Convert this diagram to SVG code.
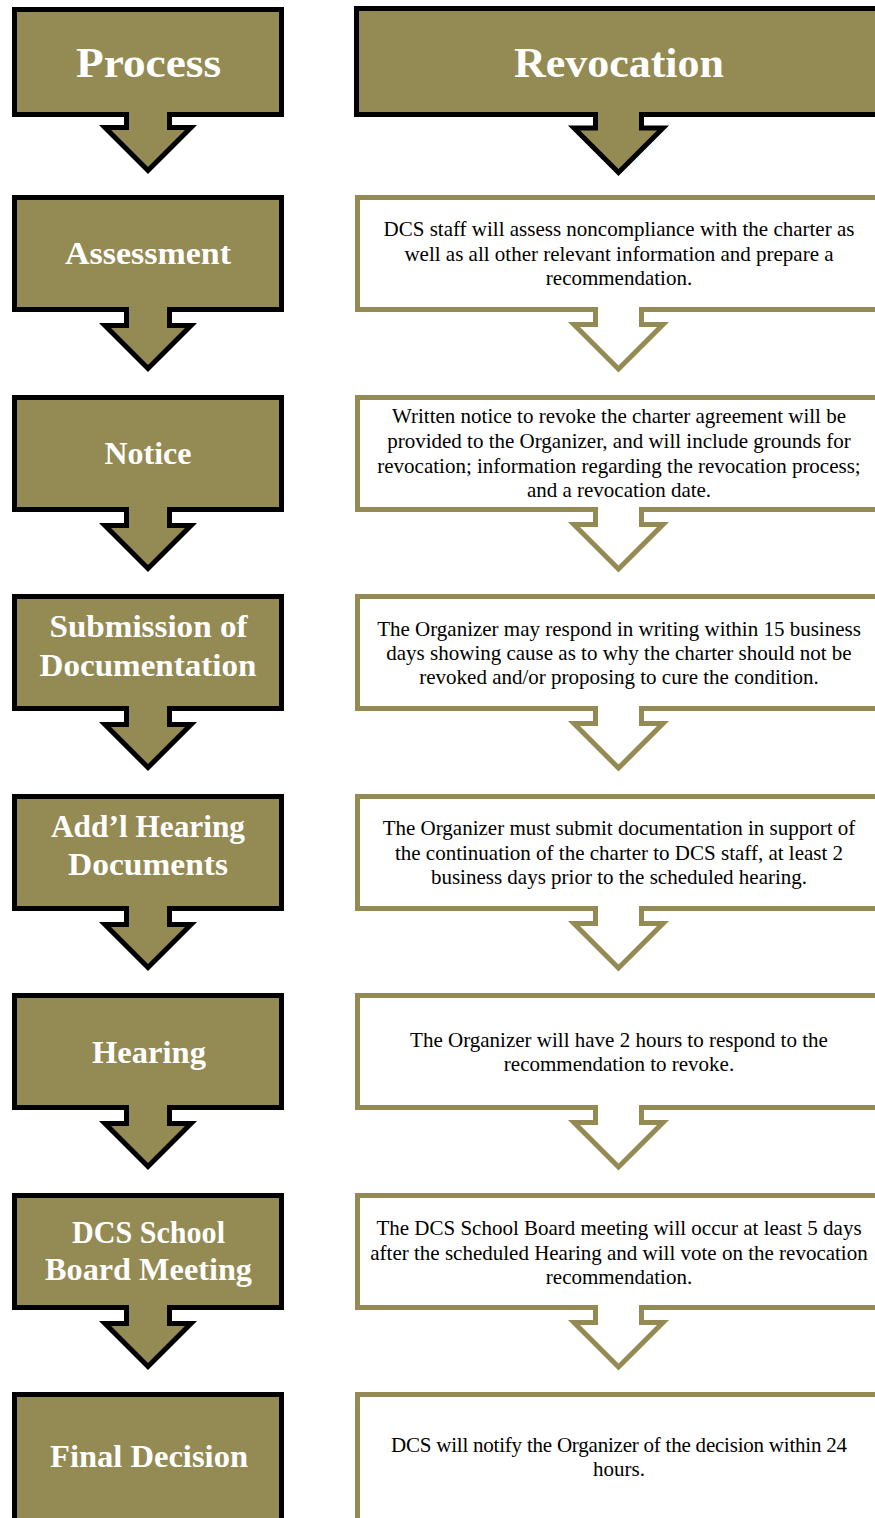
<svg xmlns="http://www.w3.org/2000/svg" xmlns:xlink="http://www.w3.org/1999/xlink" width="875" height="1518" viewBox="0 0 875 1518">
<style>
.dark{fill:#948A54;stroke:#000;stroke-width:5;stroke-linejoin:miter}
.light{fill:#fff;stroke:#948A54;stroke-width:5;stroke-linejoin:miter}
.lbl{font-family:"Liberation Serif","Times New Roman",serif;font-weight:bold;font-size:32px;fill:#fff;text-anchor:middle}
.hdr{font-size:42px}
.txt{font-family:"Liberation Serif","Times New Roman",serif;font-size:21px;fill:#000;text-anchor:middle}
</style>
<defs>
<path id="leftArrow" d="M14.5,2.5 H281.5 V114.5 H169.5 V130.5 H191 L148,173.5 L105,130.5 H126.5 V114.5 H14.5 Z"/>
<path id="rightArrow" d="M357.5,2.5 H885 V114.5 H641.5 V129.5 H663 L618.5,174 L574,129.5 H595.5 V114.5 H357.5 Z"/>
</defs>
<rect width="875" height="1518" fill="#fff"/>

<g id="process">
<path class="dark" d="M14.5,9.5 H281.5 V114.5 H169.5 V127.5 H191 L148,170.5 L105,127.5 H126.5 V114.5 H14.5 Z"/>
<text class="lbl hdr" x="148.5" y="77" textLength="145" lengthAdjust="spacingAndGlyphs">Process</text>
</g>
<g id="revocation">
<path class="dark" d="M356.5,8.5 H885 V114.5 H641.5 V128 H663 L618.5,172.5 L574,128 H595.5 V114.5 H356.5 Z"/>
<text class="lbl hdr" x="619" y="77" textLength="210" lengthAdjust="spacingAndGlyphs">Revocation</text>
</g>

<g id="assessment">
<use xlink:href="#leftArrow" class="dark" transform="translate(0,195)"/>
<text class="lbl" x="148" y="264" textLength="166" lengthAdjust="spacingAndGlyphs">Assessment</text>
</g>
<g id="assessment-desc">
<use xlink:href="#rightArrow" class="light" transform="translate(0,195)"/>
<text class="txt" x="619" y="236">DCS staff will assess noncompliance with the charter as</text>
<text class="txt" x="619" y="261">well as all other relevant information and prepare a</text>
<text class="txt" x="619" y="285">recommendation.</text>
</g>

<g id="notice">
<use xlink:href="#leftArrow" class="dark" transform="translate(0,395)"/>
<text class="lbl" x="148" y="464" textLength="87" lengthAdjust="spacingAndGlyphs">Notice</text>
</g>
<g id="notice-desc">
<use xlink:href="#rightArrow" class="light" transform="translate(0,395)"/>
<text class="txt" x="619" y="423">Written notice to revoke the charter agreement will be</text>
<text class="txt" x="619" y="448">provided to the Organizer, and will include grounds for</text>
<text class="txt" x="619" y="473">revocation; information regarding the revocation process;</text>
<text class="txt" x="619" y="497">and a revocation date.</text>
</g>

<g id="submission">
<use xlink:href="#leftArrow" class="dark" transform="translate(0,594)"/>
<text class="lbl" x="148.5" y="637" textLength="198" lengthAdjust="spacingAndGlyphs">Submission of</text>
<text class="lbl" x="148" y="676" textLength="217" lengthAdjust="spacingAndGlyphs">Documentation</text>
</g>
<g id="submission-desc">
<use xlink:href="#rightArrow" class="light" transform="translate(0,594)"/>
<text class="txt" x="619" y="636">The Organizer may respond in writing within 15 business</text>
<text class="txt" x="619" y="660">days showing cause as to why the charter should not be</text>
<text class="txt" x="619" y="684">revoked and/or proposing to cure the condition.</text>
</g>

<g id="addl-hearing-documents">
<use xlink:href="#leftArrow" class="dark" transform="translate(0,794)"/>
<text class="lbl" x="148" y="837" textLength="194" lengthAdjust="spacingAndGlyphs">Add’l Hearing</text>
<text class="lbl" x="148" y="875" textLength="160" lengthAdjust="spacingAndGlyphs">Documents</text>
</g>
<g id="addl-hearing-desc">
<use xlink:href="#rightArrow" class="light" transform="translate(0,794)"/>
<text class="txt" x="619" y="835">The Organizer must submit documentation in support of</text>
<text class="txt" x="619" y="860">the continuation of the charter to DCS staff, at least 2</text>
<text class="txt" x="619" y="884">business days prior to the scheduled hearing.</text>
</g>

<g id="hearing">
<use xlink:href="#leftArrow" class="dark" transform="translate(0,993)"/>
<text class="lbl" x="149" y="1063" textLength="114" lengthAdjust="spacingAndGlyphs">Hearing</text>
</g>
<g id="hearing-desc">
<use xlink:href="#rightArrow" class="light" transform="translate(0,993)"/>
<text class="txt" x="619" y="1047">The Organizer will have 2 hours to respond to the</text>
<text class="txt" x="619" y="1071">recommendation to revoke.</text>
</g>

<g id="board-meeting">
<use xlink:href="#leftArrow" class="dark" transform="translate(0,1193)"/>
<text class="lbl" x="148.5" y="1243" textLength="153" lengthAdjust="spacingAndGlyphs">DCS School</text>
<text class="lbl" x="148.5" y="1280" textLength="207" lengthAdjust="spacingAndGlyphs">Board Meeting</text>
</g>
<g id="board-meeting-desc">
<use xlink:href="#rightArrow" class="light" transform="translate(0,1193)"/>
<text class="txt" x="619" y="1235">The DCS School Board meeting will occur at least 5 days</text>
<text class="txt" x="619" y="1260">after the scheduled Hearing and will vote on the revocation</text>
<text class="txt" x="619" y="1284">recommendation.</text>
</g>

<g id="final-decision">
<rect class="dark" x="14.5" y="1394.5" width="267" height="200"/>
<text class="lbl" x="149" y="1467" textLength="198" lengthAdjust="spacingAndGlyphs">Final Decision</text>
</g>
<g id="final-decision-desc">
<rect class="light" x="357.5" y="1394.5" width="600" height="200"/>
<text class="txt" x="619" y="1452" textLength="456">DCS will notify the Organizer of the decision within 24</text>
<text class="txt" x="619" y="1476">hours.</text>
</g>
</svg>
